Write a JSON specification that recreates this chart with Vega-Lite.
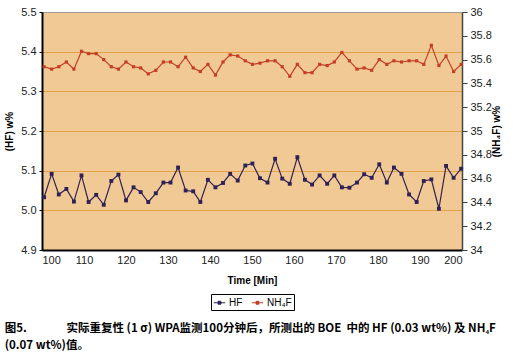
{
  "$schema": "https://vega.github.io/schema/vega-lite/v6.json",
  "width": 420,
  "height": 238,
  "padding": {"left": 4, "top": 6, "right": 3, "bottom": 2},
  "background": "white",
  "config": {
    "font": "Liberation Sans",
    "view": {"stroke": "#9a9a9a", "strokeWidth": 1, "fill": "#F0C995"},
    "legend": {"layout": {"bottom": {"anchor": "middle"}}}
  },
  "title": {
    "text": ["图5.\u2003\u2003\u2003\u00a0\u00a0实际重复性 (1 σ) WPA监测100分钟后，所测出的 BOE\u00a0 中的 HF (0.03 wt%) 及 NH₄F", "(0.07 wt%)值。"],
    "orient": "bottom",
    "anchor": "start",
    "frame": "bounds",
    "font": "Noto Sans CJK SC",
    "fontSize": 11.5,
    "fontWeight": "bold",
    "color": "black",
    "offset": 12,
    "lineHeight": 17
  },
  "data": {
    "values": [
      {"t": 100.5, "HF": 5.033, "NH4F": 35.54},
      {"t": 102.3, "HF": 5.092, "NH4F": 35.52},
      {"t": 104.0, "HF": 5.040, "NH4F": 35.54},
      {"t": 105.8, "HF": 5.054, "NH4F": 35.58},
      {"t": 107.6, "HF": 5.022, "NH4F": 35.52},
      {"t": 109.4, "HF": 5.088, "NH4F": 35.67},
      {"t": 111.1, "HF": 5.021, "NH4F": 35.65},
      {"t": 112.9, "HF": 5.039, "NH4F": 35.65},
      {"t": 114.7, "HF": 5.014, "NH4F": 35.60},
      {"t": 116.5, "HF": 5.074, "NH4F": 35.54},
      {"t": 118.2, "HF": 5.090, "NH4F": 35.52},
      {"t": 120.0, "HF": 5.025, "NH4F": 35.58},
      {"t": 121.8, "HF": 5.058, "NH4F": 35.54},
      {"t": 123.5, "HF": 5.046, "NH4F": 35.53},
      {"t": 125.3, "HF": 5.021, "NH4F": 35.48},
      {"t": 127.1, "HF": 5.043, "NH4F": 35.51},
      {"t": 128.9, "HF": 5.070, "NH4F": 35.58},
      {"t": 130.6, "HF": 5.070, "NH4F": 35.58},
      {"t": 132.4, "HF": 5.108, "NH4F": 35.54},
      {"t": 134.2, "HF": 5.050, "NH4F": 35.62},
      {"t": 136.0, "HF": 5.048, "NH4F": 35.53},
      {"t": 137.7, "HF": 5.021, "NH4F": 35.50},
      {"t": 139.5, "HF": 5.077, "NH4F": 35.56},
      {"t": 141.3, "HF": 5.058, "NH4F": 35.47},
      {"t": 143.1, "HF": 5.069, "NH4F": 35.58},
      {"t": 144.8, "HF": 5.092, "NH4F": 35.64},
      {"t": 146.6, "HF": 5.075, "NH4F": 35.63},
      {"t": 148.4, "HF": 5.113, "NH4F": 35.59},
      {"t": 150.1, "HF": 5.118, "NH4F": 35.56},
      {"t": 151.9, "HF": 5.081, "NH4F": 35.57},
      {"t": 153.7, "HF": 5.070, "NH4F": 35.59},
      {"t": 155.5, "HF": 5.130, "NH4F": 35.59},
      {"t": 157.2, "HF": 5.080, "NH4F": 35.54},
      {"t": 159.0, "HF": 5.067, "NH4F": 35.46},
      {"t": 160.8, "HF": 5.134, "NH4F": 35.56},
      {"t": 162.6, "HF": 5.077, "NH4F": 35.49},
      {"t": 164.3, "HF": 5.065, "NH4F": 35.49},
      {"t": 166.1, "HF": 5.088, "NH4F": 35.56},
      {"t": 167.9, "HF": 5.067, "NH4F": 35.55},
      {"t": 169.6, "HF": 5.088, "NH4F": 35.58},
      {"t": 171.4, "HF": 5.058, "NH4F": 35.66},
      {"t": 173.2, "HF": 5.057, "NH4F": 35.59},
      {"t": 175.0, "HF": 5.070, "NH4F": 35.52},
      {"t": 176.7, "HF": 5.091, "NH4F": 35.53},
      {"t": 178.5, "HF": 5.082, "NH4F": 35.51},
      {"t": 180.3, "HF": 5.116, "NH4F": 35.60},
      {"t": 182.1, "HF": 5.070, "NH4F": 35.56},
      {"t": 183.8, "HF": 5.108, "NH4F": 35.59},
      {"t": 185.6, "HF": 5.092, "NH4F": 35.58},
      {"t": 187.4, "HF": 5.040, "NH4F": 35.59},
      {"t": 189.2, "HF": 5.021, "NH4F": 35.59},
      {"t": 190.9, "HF": 5.074, "NH4F": 35.56},
      {"t": 192.7, "HF": 5.078, "NH4F": 35.72},
      {"t": 194.5, "HF": 5.004, "NH4F": 35.55},
      {"t": 196.2, "HF": 5.112, "NH4F": 35.63},
      {"t": 198.0, "HF": 5.082, "NH4F": 35.50},
      {"t": 199.8, "HF": 5.105, "NH4F": 35.56}
    ]
  },
  "encoding": {
    "x": {
      "field": "t",
      "type": "quantitative",
      "scale": {"domain": [100, 200], "nice": false},
      "axis": {
        "values": [100, 110, 120, 130, 140, 150, 160, 170, 180, 190, 200],
        "title": "Time [Min]",
        "titleFontSize": 10,
        "titleFontWeight": "bold",
        "titleColor": "black",
        "titlePadding": 10,
        "labelFontSize": 11,
        "labelColor": "#222",
        "labelPadding": 4,
        "grid": false,
        "domainColor": "black",
        "domainWidth": 2,
        "ticks": false
      }
    }
  },
  "layer": [
    {
      "mark": {"type": "line", "strokeWidth": 1.2, "point": {"shape": "square", "size": 15, "filled": true}},
      "encoding": {
        "y": {
          "field": "HF",
          "type": "quantitative",
          "scale": {"domain": [4.9, 5.5], "nice": false, "zero": false},
          "axis": {
            "orient": "left",
            "values": [4.9, 5.0, 5.1, 5.2, 5.3, 5.4, 5.5],
            "format": ".1f",
            "title": "(HF) w%",
            "titleFontSize": 10,
            "titleFontWeight": "bold",
            "titleColor": "black",
            "titlePadding": 6,
            "labelFontSize": 11,
            "labelColor": "#222",
            "labelPadding": 3,
            "grid": true,
            "gridColor": {"condition": {"test": "datum.value > 5.45 || datum.value < 4.95", "value": "transparent"}, "value": "#E2A24A"},
            "gridWidth": 1.2,
            "domainColor": "black",
            "domainWidth": 2,
            "tickColor": "black",
            "tickSize": 3
          }
        },
        "color": {
          "datum": "HF",
          "type": "nominal",
          "scale": {"domain": ["HF", "NH₄F"], "range": ["#2E2156", "#C43E26"]},
          "legend": {
            "orient": "bottom",
            "direction": "horizontal",
            "title": null,
            "strokeColor": "black",
            "padding": 2,
            "offset": 9,
            "labelFontSize": 10,
            "labelColor": "black",
            "labelOffset": 3,
            "symbolType": "M-1,0H1M-0.25,-0.25H0.25V0.25H-0.25Z",
            "symbolSize": 130,
            "symbolStrokeWidth": 1,
            "columnPadding": 6
          }
        }
      }
    },
    {
      "mark": {"type": "line", "strokeWidth": 1.2, "point": {"shape": "square", "size": 10, "filled": true}},
      "encoding": {
        "y": {
          "field": "NH4F",
          "type": "quantitative",
          "scale": {"domain": [34, 36], "nice": false, "zero": false},
          "axis": {
            "orient": "right",
            "values": [34, 34.2, 34.4, 34.6, 34.8, 35, 35.2, 35.4, 35.6, 35.8, 36],
            "format": "~g",
            "title": "(NH₄F) w%",
            "titleAngle": 270,
            "titleFontSize": 10,
            "titleFontWeight": "bold",
            "titleColor": "black",
            "titlePadding": 10,
            "labelFontSize": 11,
            "labelColor": "#222",
            "labelPadding": 3,
            "grid": false,
            "domainColor": "#444",
            "domainWidth": 1.5,
            "tickColor": "#444",
            "tickSize": 5
          }
        },
        "color": {"datum": "NH₄F", "type": "nominal"}
      }
    }
  ],
  "resolve": {"scale": {"y": "independent"}}
}
